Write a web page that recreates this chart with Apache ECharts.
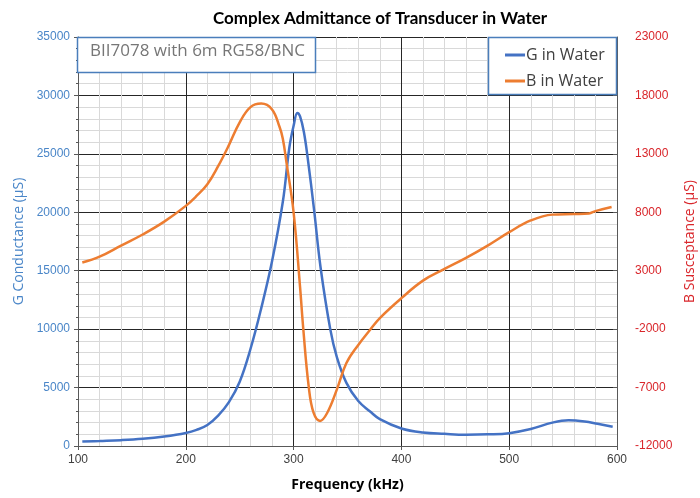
<!DOCTYPE html>
<html>
<head>
<meta charset="utf-8">
<script src="https://cdn.jsdelivr.net/npm/echarts@6/dist/echarts.min.js"></script>
<style>
  html, body { margin: 0; padding: 0; background: #fff; }
  #chart { width: 700px; height: 498px; }
</style>
</head>
<body>
<div id="chart"></div>
<script>
// 频率 (kHz) 与 G 电导
var freqG = [104, 120, 140, 160, 180, 200, 210, 220, 230, 240, 250, 260, 270, 280, 290, 296, 300, 303.5, 306, 309.5, 313, 319, 325, 334, 340, 349, 360, 371, 380, 400, 420, 440, 460, 480, 500, 520, 540, 555, 570, 582, 596];
var gValues = [380, 430, 500, 620, 820, 1120, 1380, 1800, 2600, 3750, 5500, 8300, 11800, 15800, 20900, 25500, 27400, 28500, 28200, 26900, 24700, 20200, 15300, 10000, 7650, 5400, 3850, 2950, 2300, 1500, 1150, 1040, 970, 1000, 1100, 1450, 2000, 2200, 2100, 1900, 1650];
// 频率 (kHz) 与 B 电纳
var freqB = [104, 120, 140, 160, 180, 200, 210, 220, 230, 240, 250, 260, 270, 280, 287, 290, 293.5, 300, 306, 309, 314, 318.5, 324.6, 331, 340, 349, 360, 371, 380, 400, 420, 440, 460, 480, 500, 520, 540, 560, 574, 580, 595];
var bValues = [3700, 4200, 5150, 6100, 7200, 8550, 9400, 10400, 11950, 13750, 15700, 17000, 17300, 16800, 15300, 14300, 12200, 8000, 1600, -2000, -6900, -9150, -9850, -9200, -7200, -4900, -3350, -2050, -1050, 650, 2150, 3150, 4100, 5150, 6300, 7300, 7800, 7850, 7900, 8100, 8450];
// 右轴刻度
var rightTicks = [-12000, -7000, -2000, 3000, 8000, 13000, 18000, 23000];

var gData = freqG.map(function(f, i) { return [f, gValues[i]]; });
var bData = freqB.map(function(f, i) { return [f, bValues[i]]; });
var plain = function(v) { return String(v); };

var myChart = echarts.init(document.getElementById('chart'));
var option = {
	animation: false,
	title: {
		text: 'Complex Admittance of Transducer in Water',
		left: 208,
		top: 5,
		textStyle: { fontFamily: 'Lato', fontWeight: 'bold', fontSize: 17, color: '#000' }
	},
	grid: { left: 78, right: 83, top: 37, bottom: 52, outerBoundsMode: 'none' },
	legend: {
		data: ['G in Water', 'B in Water'],
		orient: 'vertical',
		left: 500,
		top: 42,
		itemGap: 10,
		itemWidth: 20,
		itemHeight: 3,
		icon: 'rect',
		textStyle: { fontFamily: 'Open Sans', fontSize: 16, color: '#404040', padding: [0, 0, 0, -4] }
	},
	graphic: [
		{
			type: 'rect', z: 3,
			shape: { x: 77.5, y: 37.5, width: 238, height: 35 },
			style: { fill: '#fff', stroke: '#4a7ebb', lineWidth: 1.5 }
		},
		{
			type: 'text', z: 4,
			left: 90, top: 43,
			style: { text: 'BII7078 with 6m RG58/BNC', fill: '#767676', font: '17px "Open Sans"' }
		},
		{
			type: 'rect', z: 3,
			shape: { x: 488.5, y: 37.5, width: 128, height: 57 },
			style: { fill: '#fff', stroke: '#4a7ebb', lineWidth: 1.5 }
		}
	],
	xAxis: {
		type: 'value',
		min: 100, max: 600, interval: 100,
		name: 'Frequency (kHz)',
		nameLocation: 'middle',
		nameGap: 32,
		nameTextStyle: { fontFamily: 'Open Sans', fontWeight: 'bold', fontSize: 14, color: '#000' },
		axisLine: { lineStyle: { color: '#595959' } },
		axisTick: { show: true, length: 4, lineStyle: { color: '#595959' } },
		minorTick: { show: false, splitNumber: 5 },
		axisLabel: { fontFamily: 'Liberation Sans', fontSize: 12, color: '#404040', margin: 8, formatter: plain },
		splitLine: { show: true, lineStyle: { color: '#262626', width: 1 } },
		minorSplitLine: { show: true, lineStyle: { color: '#d9d9d9', width: 1 } }
	},
	yAxis: [
		{
			type: 'value',
			min: 0, max: 35000, interval: 5000,
			name: 'G Conductance (µS)',
			nameLocation: 'middle',
			nameGap: 46,
			nameTextStyle: { fontFamily: 'Open Sans', fontSize: 14, color: '#4a86c8' },
			axisLine: { show: true, lineStyle: { color: '#595959' } },
			axisTick: { show: true, length: 4, lineStyle: { color: '#595959' } },
			minorTick: { show: true, splitNumber: 5, length: 2, lineStyle: { color: '#595959' } },
			axisLabel: { fontFamily: 'Liberation Sans', fontSize: 12, color: '#4a86c8', margin: 8, formatter: plain },
			splitLine: { show: true, lineStyle: { color: '#262626', width: 1 } },
			minorSplitLine: { show: true, lineStyle: { color: '#d9d9d9', width: 1 } }
		},
		{
			type: 'value',
			min: -12000, max: 23000,
			position: 'right',
			name: 'B Susceptance (µS)',
			nameLocation: 'middle',
			nameGap: 49,
			nameRotate: 90,
			nameTextStyle: { fontFamily: 'Open Sans', fontSize: 14, color: '#d9262b' },
			axisLine: { show: true, lineStyle: { color: '#595959' } },
			axisTick: { show: true, inside: true, length: 4, customValues: rightTicks, lineStyle: { color: '#595959' } },
			axisLabel: { fontFamily: 'Liberation Sans', fontSize: 12, color: '#d9262b', margin: 18, customValues: rightTicks, formatter: plain },
			splitLine: { show: false }
		}
	],
	series: [
		{
			name: 'G in Water',
			type: 'line',
			yAxisIndex: 0,
			data: gData,
			smooth: 0.4,
			showSymbol: false,
			lineStyle: { color: '#4472c4', width: 2.5 },
			itemStyle: { color: '#4472c4' }
		},
		{
			name: 'B in Water',
			type: 'line',
			yAxisIndex: 1,
			data: bData,
			smooth: 0.4,
			showSymbol: false,
			lineStyle: { color: '#ed7d31', width: 2.5 },
			itemStyle: { color: '#ed7d31' }
		}
	]
};
myChart.setOption(option);
</script>
</body>
</html>
